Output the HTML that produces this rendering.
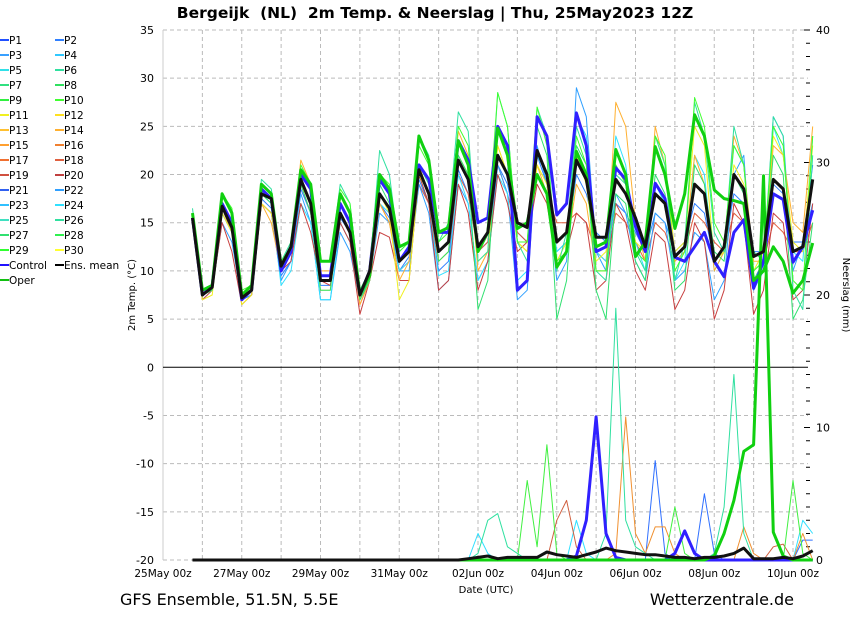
<!DOCTYPE html>
<html><head><meta charset="utf-8"><style>
body{margin:0;background:#fff;width:850px;height:620px;overflow:hidden;font-family:"DejaVu Sans","Liberation Sans",sans-serif}
svg{position:absolute;left:0;top:0}
</style></head><body>
<svg id="c" width="850" height="620" xmlns="http://www.w3.org/2000/svg"></svg>
<script>
const nPts = 64; // 25May 18z to 10Jun 12z every 6h
const dayLabels = ["25May 00z","27May 00z","29May 00z","31May 00z","02Jun 00z","04Jun 00z","06Jun 00z","08Jun 00z","10Jun 00z"];
const tempTicks = [-20,-15,-10,-5,0,5,10,15,20,25,30,35];
const precipTicks = [0,10,20,30,40];
const ensMean = [15.5,7.5,8.3,16.7,14.5,7.2,8,18,17.5,10.5,12.5,19.5,17,9,9,16,14,7.5,10,18,16.5,11,12,20.5,18,12,13,21.5,19.5,12.5,14,22,20,15,14.5,22.5,20,13,14,21.5,19.5,13.5,13.5,19.5,18,15.5,12.5,18,17,11.5,12.5,19,18,11,12.5,20,18.5,11.5,12,19.5,18.5,12,12.5,19.5];
const control = [15.5,7.5,8.5,17,15,7,8,18.5,17.5,10,12,20,18.5,9.5,9.5,17,15,7.5,10,19.5,18,11,12.5,21,19.5,14,14,23.5,21.5,15,15.5,25,23,8,9,26,24,15.8,17,26.4,23,12,12.5,20.7,19.5,14.6,12,19.1,17.5,11.4,11,12.5,14,11,9.4,14,15.3,8.2,11,18,17.4,10.9,12.5,16.3];
const oper = [16,8,8.5,18,16,7.5,8.5,19,18,10.5,12.5,20.5,19,11,11,18,16,7.5,9.5,20,18.5,12.5,13,24,21.5,14,14.5,23.5,21,12,14,24.8,22,14.4,15,20,18,10.4,12,22.4,20,12.5,13,22.6,20,11.5,13,22.9,20,14.4,18,26.2,24,18.4,17.5,17.3,17,9,10,12.5,11,7.7,9,12.9];
const memP6 = [16.5,8,8.5,18,16,7.5,8.5,19.5,18.5,11,13,20.5,19,11,11,19,17,8,10,22.5,20,12,13,24,22,13,15,26.5,24.5,11,12,28.5,25,13,11,27,24,10,14,25,22,10,9,20,19,12,10,24,21,9,13,27.5,24,14,12,25,21,9,11,26,24,8,6,22];
const memP22 = [15,7,8,15,13,7,7.5,17,16,9,11,18,15,7,7,14,12,7,9,16,15,10,10,19,16,8,9,19,17,9,11,21,18,7,8,23,19,9,11,29,26,12,10,18,16,11,9,16,15,9,10,14,13,7,9,20,22,8,10,26,24,10,13,17];
const memP14 = [15.5,7.5,8,17,15,7,8,17,15,10,12,21.5,19,10,10,16,14,6.5,9,17,15,9,11,21,18,12,13,24.5,22,10,12,23,20,13,12,21,18,11,12,19,17,10,10,27.5,25,15,11,25,21,11,12,22,19,10,12,24,21,11,11,23,22,15,14,25];
const memP20 = [15.5,7,8,15,12,6.5,7.5,17,16,10,11,17,14,9,8.5,15,13,5.5,9,14,13.5,9,9,20,17,8,9,19,16,8,11,20,17,12,13,19,17,11,12,16,15,8,9,17,15,10,8,14,13,6,8,15,13,5,8,17,15,5.5,8,16,15,7,8,17];
const memP10 = [16,8,8.5,18,16.5,8,8.5,19,18,11,12.5,21,19,11,11,18.5,17,8,10,20,19,12,13,23,21,13,14,25,23,12,14,28.5,25,13,13,27,23,11,12,24,21,10,10,21,19,12,11,24,22,10,12,28,25,15,13,23,21,10,11,25,23,9,8,24];
const memP24 = [15.5,7.5,8,16,14,7.5,8,18,17,8.5,10,17,15,7,7,15,13,7,9,17,16,10,11,20,17,9.5,10,20,17,9,11,20,18,9,10,22,20,12,13,26,24,12,11,24,21,13,10,19,17,9,11,22,20,10,12,23,21,10,11,25,22,12,11,24];
const memP11 = [15,7,7.5,16,14,6.5,7.5,17,16,10,12,19,17,8,8,16,14,7,10,18,16,7,9,20,18,11,12,22,20,11,12,23,20,13,12,21,19,11,13,22,19,11,12,21,19,13,12,24,21,12,13,25,23,11,12,21,19,10,12,24,22,13,12,23];
const memP27 = [15.5,7.5,8,17,15,7,8,18,17,10,12,19,16,8,8,17,15,7,9,19,17,11,12,21,19,11,12,22,20,6,9,25,22,13,13,25,22,5,9,23,21,8,5,18,17,11,9,20,18,8,9,21,19,12,11,20,18,12,11,22,20,5,7,15];
const memP2 = [15,7.5,8,16,14,7,8,17.5,16.5,9.5,11,18.5,16,8.5,8.5,15.5,14,7,9.5,17,15.5,10,11.5,19.5,17,10,11,20.5,18,12,13,21,19,14,13,22,19,12,13,20,18,14,13,17,16,14,12,16,15,12,13,17,16,11,12,18,17,12,12,19,18,13,13,21];
const memP18 = [15.5,7.5,8,16.5,14,7,7.5,17,16,10,12,19,16,9,9,16,14,6.5,9,17,15,10,11,19,17,11,12,20,18,12,13,21,18,14,13,20,18,15,15,16,15,12,11,16,15,13,11,15,14,11,12,16,15,13,12,16,15,9,11,15,14,12,12,15];
const z26 = [0,0,0,0,0,0,0,0,0,0,0,0,0,0,0,0,0,0,0,0,0,0,0,0,0,0];
const precipMean = z26.concat([0,0,0.1,0.2,0.3,0.1,0.2,0.2,0.2,0.2,0.6,0.4,0.3,0.2,0.4,0.6,0.9,0.7,0.6,0.5,0.4,0.4,0.3,0.2,0.2,0.1,0.2,0.2,0.3,0.5,0.9,0.1,0.1,0.1,0.2,0.1,0.3,0.7]);
const precipControl = z26.concat([0,0,0,0,0,0,0,0,0,0,0,0,0,0.3,3,10.8,2,0.2,0,0,0,0,0,0.5,2.2,0.5,0,0,0,0,0,0,0,0,0,0,0,0]);
const precipOper = z26.concat([0,0,0,0,0,0,0,0,0,0,0,0,0,0,0,0,0,0,0,0,0,0,0,0,0,0,0,0.3,2,4.5,8.2,8.7,29,2.1,0.3,0,0,0]);
const precipP6 = z26.concat([0,0,0,0.5,3,3.5,1,0.5,0,0,0,0,0,0,0,0,2,19,3,1,0.5,0,0,0,0,0,0,0.5,4,14,2,0,0,0,0,0,0,0]);
const precipP10 = z26.concat([0,0,0,0,0,0,0,0,6,1,8.7,0.5,0,0,0,0,0,0,0,0,0,0,0,4,0.5,0,0,0,0,0,0,0,0,0,0,6,0.5,0]);
const precipP14 = z26.concat([0,0,0,0,0,0,0,0,0,0,0,0,0,0,0,0,0,0.5,10.8,2,0.5,2.5,2.5,0.5,0,0,0,0,0,0,2.5,0.5,0,0,0,0,2,0]);
const precipP20 = z26.concat([0,0,0,0,0,0,0,0,0,0,0,3,4.5,1,0,0,0,0,0,0,0,0,0,0,0,0,0,0,0,0,0,0,0,1,1.2,0,0,0]);
const precipP22 = z26.concat([0,0,0,0,0,0,0,0,0,0,0,0,0,0,0,0,0,0,0,0,0,7.5,0.5,0,0,0,5,0.5,0,0,0,0,0,0,0,0,1.5,1.5]);
const precipP24 = z26.concat([0,0,0,2,0.5,0,0,0,0,0,0,0,0,3,0.5,0,0,0,0,0,0,0,0,0,0,0,0,0,0,0,0,0,0,0,0,0,3,2]);

const svg = document.getElementById('c');
const NS = 'http://www.w3.org/2000/svg';
const X0 = 163, DAYW = 39.375;
function xPt(i){ return X0 + (0.75 + i*0.25)*DAYW; }
function yT(t){ return 30 + (35 - t) * (530/55); }
function yP(p){ return 560 - p * (530/40); }
function mk(tag, attrs, parent){ const e = document.createElementNS(NS, tag); for (const k in attrs) e.setAttribute(k, attrs[k]); (parent||svg).appendChild(e); return e; }
function txt(s, attrs, parent){ const e = mk('text', attrs, parent); e.textContent = s; return e; }

const grid = mk('g', {});


tempTicks.forEach(t => {
  if (t === 0) return;
  mk('line', {x1:X0, x2:808, y1:yT(t), y2:yT(t), stroke:'#bbb', 'stroke-dasharray':'4,3', 'stroke-width':1}, grid);
});
for (let d = 1; d <= 16; d++) {
  mk('line', {x1:X0+d*DAYW, x2:X0+d*DAYW, y1:30, y2:560, stroke:'#bbb', 'stroke-dasharray':'4,3', 'stroke-width':1}, grid);
}
mk('line', {x1:X0, x2:X0, y1:30, y2:560, stroke:'#ccc'}, grid);
mk('line', {x1:X0, x2:808, y1:yT(0), y2:yT(0), stroke:'#000', 'stroke-width':1}, grid);
mk('line', {x1:192, x2:808, y1:560, y2:560, stroke:'#999', 'stroke-width':1.5}, grid);

const ly = mk('g', {});


tempTicks.forEach(t => {
  txt(String(t), {x:154, y:yT(t)+4, 'text-anchor':'end', 'font-size':11, fill:'#000'}, ly);
});
const lt = txt('2m Temp. (°C)', {x:0, y:0, 'font-size':10, 'text-anchor':'middle', transform:'translate(135,295) rotate(-90)'});



const ry = mk('g', {});


for (let p = 0; p <= 40; p++) {
  const maj = p % 10 === 0;
  mk('line', {x1:maj?804:806, x2:810, y1:yP(p), y2:yP(p), stroke:'#000', 'stroke-width':1}, ry);
}
precipTicks.forEach(p => {
  txt(String(p), {x:816, y:yP(p)+4, 'font-size':11, fill:'#000'}, ry);
});
const rt = txt('Neerslag (mm)', {x:0, y:0, 'font-size':10, 'text-anchor':'middle', transform:'translate(843,295) rotate(90)'});



const xa = mk('g', {});


dayLabels.forEach((s, k) => {
  txt(s, {x:X0 + k*2*DAYW, y:577, 'text-anchor':'middle', 'font-size':10.5, fill:'#000'}, xa);
});
const xt = txt('Date (UTC)', {x:486, y:593, 'text-anchor':'middle', 'font-size':10});



function series(arr, yf, color, w, name){
  const pts = arr.map((v,i) => xPt(i).toFixed(1)+','+yf(v).toFixed(1)).join(' ');
  const pl = mk('polyline', {points:pts, fill:'none', stroke:color, 'stroke-width':w, 'stroke-linejoin':'round'});
  
  
}
series(memP2, yT, '#3080ff', 1, 'temp-p2');
series(memP18, yT, '#e06040', 1, 'temp-p18');
series(memP22, yT, '#30a0ff', 1, 'temp-p22');
series(memP24, yT, '#30e0ff', 1, 'temp-p24');
series(memP20, yT, '#c84040', 1, 'temp-p20');
series(memP14, yT, '#ffb030', 1, 'temp-p14');
series(memP11, yT, '#f0f020', 1, 'temp-p11');
series(memP27, yT, '#30e070', 1, 'temp-p27');
series(memP6, yT, '#30e0a0', 1, 'temp-p6');
series(memP10, yT, '#40ff30', 1, 'temp-p10');
series(precipP24, yP, '#30e0ff', 1, 'precip-p24');
series(precipP22, yP, '#3070ff', 1, 'precip-p22');
series(precipP20, yP, '#d06040', 1, 'precip-p20');
series(precipP14, yP, '#f09030', 1, 'precip-p14');
series(precipP10, yP, '#40f040', 1, 'precip-p10');
series(precipP6, yP, '#30e0a0', 1, 'precip-p6');
series(control, yT, '#3020ff', 3, 'temp-control');
series(precipControl, yP, '#3020ff', 3, 'precip-control');
series(oper, yT, '#10d010', 3, 'temp-oper');
series(precipOper, yP, '#10d010', 3, 'precip-oper');
series(ensMean, yT, '#111', 3, 'temp-ens-mean');
series(precipMean, yP, '#111', 3, 'precip-ens-mean');

const ti = txt('Bergeijk  (NL)  2m Temp. & Neerslag | Thu, 25May2023 12Z', {x:435, y:18, 'text-anchor':'middle', 'font-size':15.5, 'font-weight':'bold', style:'white-space:pre'});


const f1 = txt('GFS Ensemble, 51.5N, 5.5E', {x:120, y:605, 'font-size':16});


const f2 = txt('Wetterzentrale.de', {x:794, y:605, 'text-anchor':'end', 'font-size':16});



const legNames = [];
for (let i = 1; i <= 30; i++) legNames.push('P'+i);
legNames.push('Control','Ens. mean','Oper');
const legColors = ['#2050ff','#3080ff','#38a0ff','#30c8ff','#30e0e8','#30e0a0','#30e080','#30e060','#30f040','#40ff30','#f0f020','#ffe020','#ffc030','#ffb030','#ffa030','#f08030','#f07030','#e06040','#d05040','#c04040','#3060f0','#30a0ff','#30c0ff','#30e0ff','#40e0c0','#30e0a0','#30e070','#30f050','#30ff30','#ffff30','#2010ff','#000','#10c010'];
const leg = mk('g', {});


legNames.forEach((n, i) => {
  const col = i % 2, row = Math.floor(i / 2);
  const lx = col ? 55 : 0, yy = 40 + row * 15;
  const g = mk('g', {}, leg);
  
  
  mk('line', {x1:lx, x2:lx+9, y1:yy, y2:yy, stroke:legColors[i], 'stroke-width':2}, g);
  txt(n, {x:lx+9, y:yy+4, 'font-size':10.5, fill:'#000'}, g);
});
</script>
</body></html>
